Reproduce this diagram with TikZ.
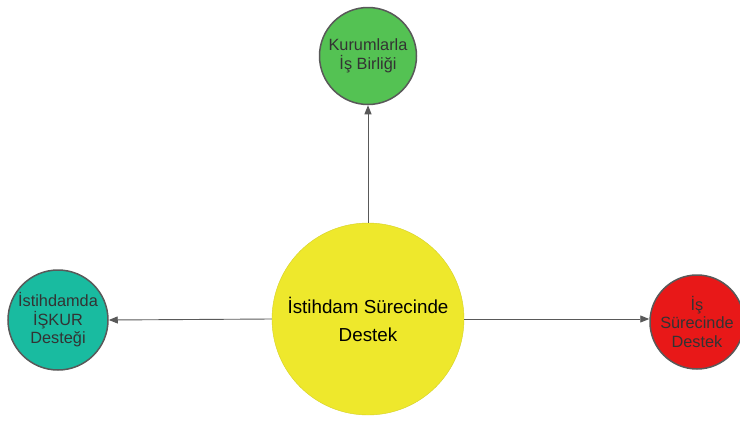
\documentclass[tikz,border=0pt]{standalone}
\usepackage{fontspec}
\setmainfont{Liberation Sans}
\usetikzlibrary{arrows.meta}
\definecolor{edgegray}{HTML}{595959}
\definecolor{txtgray}{HTML}{333333}
\definecolor{cyellow}{HTML}{EEE82C}
\definecolor{cgreen}{HTML}{54C253}
\definecolor{cteal}{HTML}{19BBA0}
\definecolor{cred}{HTML}{E81818}
\tikzset{
  hub/.style={circle, fill=cyellow, draw=cyellow!90!black, line width=0.4pt,
    minimum size=192pt, inner sep=0pt, align=center, text=black,
    font=\fontsize{18.8}{28}\selectfont},
  leaf/.style={circle, draw=edgegray, line width=1.5pt, inner sep=0pt,
    align=center, text=txtgray, font=\fontsize{16.3}{18.5}\selectfont},
  link/.style={draw=edgegray, line width=0.9pt,
    -{Triangle[length=9pt,width=7pt]}}
}
\begin{document}
\begin{tikzpicture}[x=1pt,y=-1pt]
  \useasboundingbox (0,0) rectangle (740,421);
  \node[hub] (center) at (368,319) {İstihdam Sürecinde\\Destek};
  \node[leaf, fill=cgreen, minimum size=97pt] (green) at (368,56) {Kurumlarla\\İş Birliği};
  \node[leaf, fill=cteal, minimum size=100pt] (teal) at (58,320) {İstihdamda\\İŞKUR\\Desteği};
  \node[leaf, fill=cred, minimum size=94pt] (red) at (697,322) {İş\\Sürecinde\\Destek};
  \draw[link] (center.north) -- (green.south);
  \draw[link] (center.west) -- (teal.east);
  \draw[link] (center.east) -- (red.west |- center.east);
\end{tikzpicture}
\end{document}
